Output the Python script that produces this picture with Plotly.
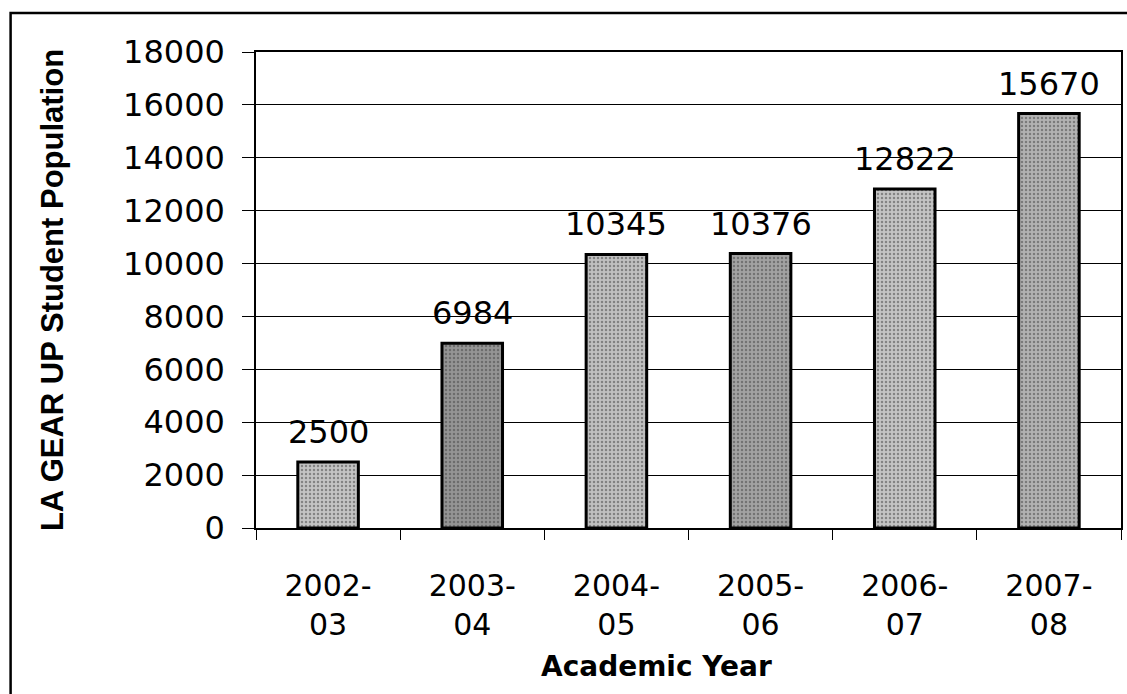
import plotly.graph_objects as go

categories = ["2002-03", "2003-04", "2004-05", "2005-06", "2006-07", "2007-08"]
tick_labels = ["2002-<br>03", "2003-<br>04", "2004-<br>05", "2005-<br>06", "2006-<br>07", "2007-<br>08"]
population = [2500, 6984, 10345, 10376, 12822, 15670]
bar_color = ["#c4c4c4", "#959595", "#c0c0c0", "#a2a2a2", "#c4c4c4", "#b2b2b2"]
dot_color = ["#6a6a6a", "#3a3a3a", "#6a6a6a", "#444444", "#6a6a6a", "#555555"]

FONT = "DejaVu Sans, Liberation Sans, Arial, sans-serif"
NARROW = "Liberation Sans, Arial, sans-serif"

fig = go.Figure()
fig.add_trace(go.Bar(
    x=categories,
    y=population,
    width=0.42,
    marker=dict(
        color=bar_color,
        line=dict(color="black", width=3),
        pattern=dict(shape=".", fgcolor=dot_color, size=4, solidity=0.3, fillmode="overlay"),
    ),
    showlegend=False,
    hoverinfo="x+y",
))

for c, v in zip(categories, population):
    fig.add_annotation(
        x=c, y=v, text=str(v), showarrow=False, yanchor="bottom", yshift=9,
        font=dict(family=FONT, size=32, color="black"),
    )

fig.add_annotation(
    xref="paper", yref="paper", x=0.4625, y=-0.29, text="<b>Academic Year</b>",
    showarrow=False, xanchor="center", yanchor="middle",
    font=dict(family=FONT, size=28, color="black"),
)

# outer frame
fig.add_shape(
    type="rect", xref="paper", yref="paper",
    x0=-0.2837, x1=1.02, y0=-0.40, y1=1.0819,
    line=dict(color="black", width=2.5), fillcolor="rgba(0,0,0,0)", layer="above",
)

fig.update_layout(
    width=1127, height=694,
    margin=dict(l=256, r=4, t=52, b=166),
    paper_bgcolor="white", plot_bgcolor="white",
    font=dict(family=FONT, size=30, color="black"),
)
fig.update_xaxes(
    type="category",
    tickvals=categories, ticktext=tick_labels,
    showline=True, linecolor="black", linewidth=1.5, mirror=True,
    ticks="outside", ticklen=10, tickcolor="black", tickwidth=1,
    tickson="boundaries",
    tickfont=dict(family=FONT, size=30, color="black"),
    ticklabelstandoff=30,
    showgrid=False,
)
fig.update_yaxes(
    range=[0, 18000], dtick=2000, tickformat="d",
    showline=True, linecolor="black", linewidth=1.5, mirror=True,
    ticks="outside", ticklen=12, tickcolor="black", tickwidth=1,
    showgrid=True, gridcolor="black", gridwidth=1,
    tickfont=dict(family=FONT, size=32, color="black"),
    ticklabelstandoff=11,
    zeroline=False,
    title=dict(text="<b>LA GEAR UP Student Population</b>", font=dict(family=NARROW, size=31, color="black"), standoff=50),
)

fig.write_html("out.html")
